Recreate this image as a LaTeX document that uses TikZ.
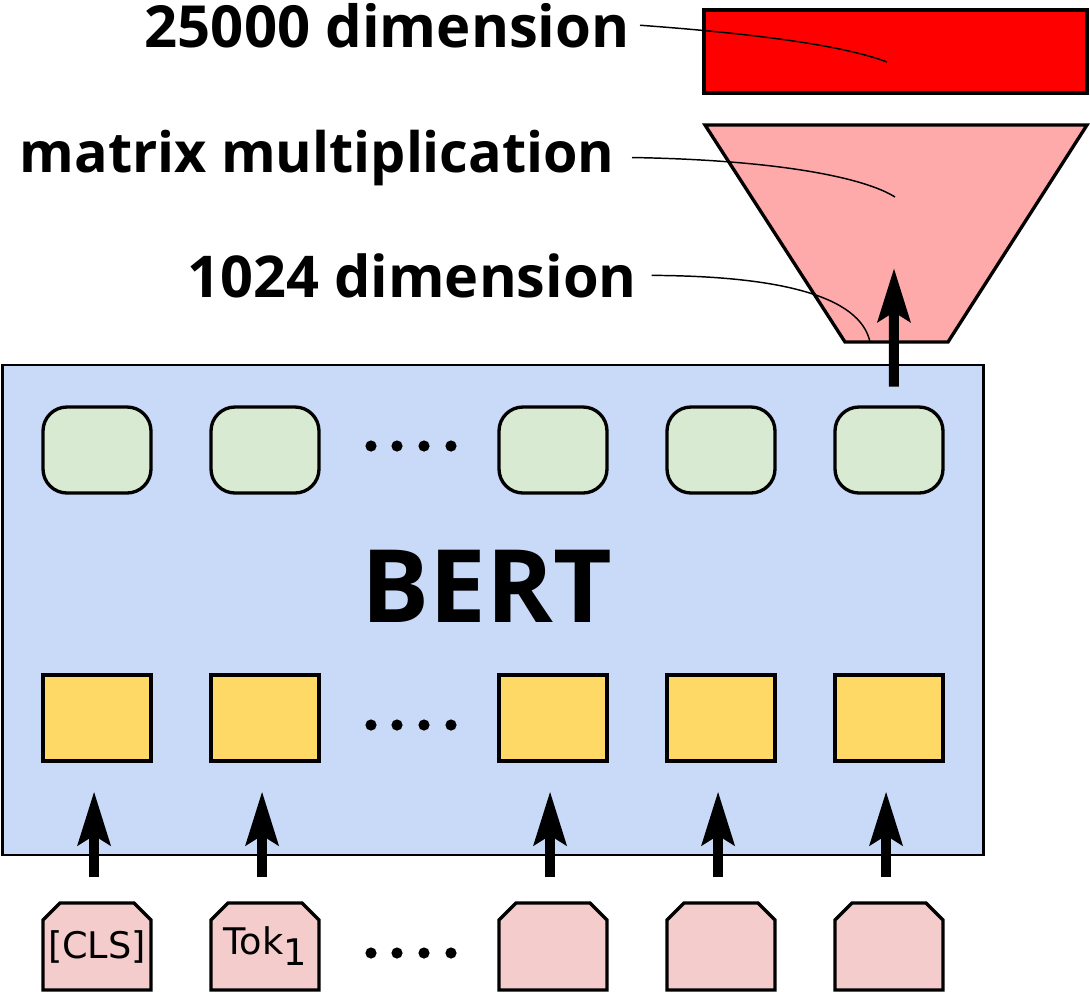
\documentclass[tikz,border=0pt]{standalone}
\usepackage{fontspec}
\setmainfont{Noto Sans}
\newfontfamily\lblfont{Open Sans}
\newfontfamily\tokfont{DejaVu Sans}
\usetikzlibrary{arrows.meta}
\definecolor{bertblue}{HTML}{C9DAF8}
\definecolor{outgreen}{HTML}{D9EAD3}
\definecolor{inyellow}{HTML}{FFD966}
\definecolor{tokpink}{HTML}{F4CCCC}
\definecolor{trappink}{HTML}{FFAAAA}
\definecolor{outred}{HTML}{FF0000}
\tikzset{
  outbox/.style={draw, line width=2.5pt, fill=outgreen, rounded corners=18pt,
    minimum width=81pt, minimum height=64.5pt, inner sep=0pt},
  inbox/.style={draw, line width=2.5pt, fill=inyellow,
    minimum width=81pt, minimum height=64.5pt, inner sep=0pt},
  tokshape/.style={draw, line width=2.5pt, fill=tokpink, line join=miter},
  toktext/.style={minimum width=81.5pt, minimum height=65pt, inner sep=0pt,
    font=\tokfont\fontsize{27.5}{31}\selectfont},
  bigarrow/.style={line width=7.5pt, -{Stealth[length=40pt,width=24pt,inset=7pt]}},
  lbl/.style={font=\lblfont\bfseries\fontsize{44}{52}\selectfont, inner sep=0pt},
  leader/.style={line width=1.1pt},
  dot/.style={fill=black}
}
\begin{document}
\begin{tikzpicture}[x=0.75pt,y=-0.75pt]
\useasboundingbox (0,0) rectangle (1090,992);

% BERT box
\node[draw, line width=2.2pt, fill=bertblue, minimum width=735.5pt, minimum height=367.5pt, inner sep=0pt] (bert) at (493,610) {};
\node[font=\lblfont\bfseries\fontsize{76}{90}\selectfont, inner sep=0pt, anchor=base] (berttxt) at (487,622) {BERT};

% output and input boxes
\foreach \i/\x in {1/97,2/265,3/553,4/721,5/889}{
  \node[outbox] (o\i) at (\x,450) {};
  \node[inbox] (y\i) at (\x,718) {};
  \draw[tokshape] (\x-54,990) -- (\x-54,920) -- (\x-37,903) -- (\x+37,903) -- (\x+54,920) -- (\x+54,990) -- cycle;
}
% tokens
\node[toktext] (t1) at (97,946.5) {[CLS]};
\node[toktext] (t2) at (265,946.5) {Tok\raisebox{-0.3em}{1}};
\node[toktext] (t3) at (553,946.5) {};
\node[toktext] (t4) at (721,946.5) {};
\node[toktext] (t5) at (889,946.5) {};

% dots
\foreach \yy in {446,725,953}{
  \foreach \xx in {371,397,424,451}{
    \fill[dot] (\xx,\yy) circle (4.2pt);
  }
}

% arrows from tokens
\foreach \i in {1,...,5}{
  \draw[bigarrow, shorten <=19.5pt, shorten >=21.5pt] ([xshift=-2.2pt]t\i.north) -- ([xshift=-2.2pt]y\i.south);
}

% trapezoid
\draw[line width=2.5pt, fill=trappink, line join=miter] (705,125) -- (1087,125) -- (948,342) -- (845,342) -- cycle;
\coordinate (trapbase) at (870,342);
\coordinate (trapmid) at (895,197);
\coordinate (toptip) at (894,268);

% top arrow
\draw[bigarrow, shorten <=14pt] ([xshift=3.7pt]o5.north) -- (toptip);

% red box
\node[draw, line width=2.5pt, fill=outred, minimum width=287.25pt, minimum height=62.25pt, inner sep=0pt] (red) at (895.5,51.5) {};
\coordinate (redmid) at (887,62);

% labels
\node[lbl, anchor=base east] (l1) at (630,47) {\resizebox{363.75pt}{!}{25000 dimension}};
\node[lbl, anchor=base east] (l2) at (615,172) {\resizebox{446.25pt}{!}{matrix multiplication}};
\node[lbl, anchor=base east] (l3) at (637,297) {\resizebox{336.75pt}{!}{1024 dimension}};

\draw[leader] ([xshift=7.5pt]l1.east) .. controls (760,34) and (845,46) .. (redmid);
\draw[leader] ([xshift=12.75pt]l2.east) .. controls (780,160) and (865,178) .. (trapmid);
\draw[leader] ([xshift=11pt]l3.east) .. controls (780,276) and (860,296) .. (trapbase);
\end{tikzpicture}
\end{document}
